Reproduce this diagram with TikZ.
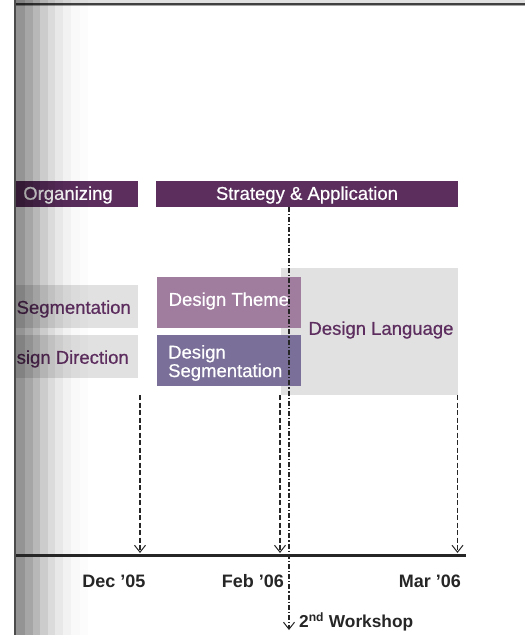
\documentclass[tikz,border=0pt]{standalone}
\usepackage{fontspec}
\setmainfont{Liberation Sans}
\newfontfamily\lblfont[FakeBold=0.6]{Liberation Sans}
\usetikzlibrary{arrows.meta}
\definecolor{barpurple}{HTML}{5B2E5D}
\definecolor{themepurple}{HTML}{A07D9F}
\definecolor{segpurple}{HTML}{7A6F98}
\definecolor{boxgray}{HTML}{E1E1E1}
\definecolor{labpurple}{HTML}{5C2D5E}
\definecolor{inkdark}{HTML}{262626}
\definecolor{topgray}{HTML}{E0E0E0}
\begin{document}
\begin{tikzpicture}[x=1pt,y=-1pt,
  boxbase/.style={rectangle, inner sep=0pt, outer sep=0pt, anchor=north west},
  barbox/.style={boxbase, fill=barpurple},
  graybox/.style={boxbase, fill=boxgray},
  themebox/.style={boxbase, fill=themepurple},
  segbox/.style={boxbase, fill=segpurple},
  lbl/.style={inner sep=0pt, font=\lblfont\fontsize{18.5}{19}\selectfont},
  barlbl/.style={lbl, text=white},
  graylbl/.style={lbl, text=labpurple},
  datelbl/.style={inner sep=0pt, font=\bfseries\fontsize{18}{19}\selectfont, text=inkdark},
  tipstyle/.style={-{Straight Barb[length=7pt,width=11pt,line width=1pt]}},
  dashline/.style={draw=inkdark, line width=1.3pt, dash pattern=on 5pt off 2.5pt, tipstyle},
  dashdotline/.style={draw=inkdark, line width=1.3pt, dash pattern=on 5pt off 2pt on 1.2pt off 2pt, tipstyle},
  stripe/.style={fill=black}
]
\useasboundingbox (0,0) rectangle (525,635);
\fill[white] (0,0) rectangle (525,635);
% top band
\fill[topgray] (14,0) rectangle (525,3.5);
\draw[line width=1.2pt, draw=black!75] (14,4) -- (525,4);
\draw[line width=0.6pt, draw=black!35] (14,5.2) -- (525,5.2);

% phase bars
\node[barbox, minimum width=122pt, minimum height=26pt] (orgbar) at (16,181) {};
\node[barbox, minimum width=302pt, minimum height=26pt] (stratbar) at (156,181) {};
\node[barlbl] (stratlbl) at (307,195) {Strategy \& Application};

% left gray boxes
\node[graybox, minimum width=122pt, minimum height=43pt] (segL) at (16,285) {};
\node[graybox, minimum width=122pt, minimum height=43pt] (dirL) at (16,335) {};
\begin{scope}
\clip (16,0) rectangle (140,635);
\node[barlbl] (orglbl) at (68,195) {Organizing};
\node[graylbl, anchor=east] (segLlbl) at (131,309) {Segmentation};
\node[graylbl, anchor=east] (dirLlbl) at (129,359) {sign Direction};
\end{scope}

% design language box
\node[graybox, minimum width=177pt, minimum height=127pt] (lang) at (281,268) {};
\node[graylbl] (langlbl) at (381,330) {Design Language};

% theme / segmentation boxes
\node[themebox, minimum width=144pt, minimum height=51pt] (theme) at (157,277) {};
\node[segbox, minimum width=144pt, minimum height=51pt] (dseg) at (157,335) {};
\node[barlbl, anchor=west] (themelbl) at (168.5,301) {Design Theme};
\node[barlbl, anchor=west, align=left, font=\lblfont\fontsize{18.5}{18.5}\selectfont] (dseglbl) at (168,363) {Design\\Segmentation};

% stripes (left fading edge)
\fill[stripe, opacity=0.42] (16,0) rectangle (25,635);
\fill[stripe, opacity=0.35] (25,0) rectangle (33,635);
\fill[stripe, opacity=0.28] (33,0) rectangle (40,635);
\fill[stripe, opacity=0.20] (40,0) rectangle (48,635);
\fill[stripe, opacity=0.14] (48,0) rectangle (55,635);
\fill[stripe, opacity=0.09] (55,0) rectangle (63,635);
\fill[stripe, opacity=0.05] (63,0) rectangle (71,635);
\fill[stripe, opacity=0.025] (71,0) rectangle (80,635);
\fill[stripe, opacity=0.01] (80,0) rectangle (88,635);
\fill[black!70] (14,0) rectangle (16,635);

% timeline
\coordinate (tlL) at (16,555);
\coordinate (tlR) at (466,555);
\draw[line width=3pt, draw=inkdark] (tlL) -- (tlR);

% milestone arrows
\coordinate (decTop) at (140,395);
\coordinate (decBot) at (140,553);
\coordinate (febTop) at (280,395);
\coordinate (febBot) at (280,553);
\coordinate (marTop) at (457.5,395);
\coordinate (marBot) at (457.5,553);
\draw[dashline] (decTop) -- (decBot);
\draw[dashline] (febTop) -- (febBot);
\draw[dashline] (marTop) -- (marBot);

% workshop line
\coordinate (wsTop) at (289,207);
\coordinate (wsBot) at (289,630);
\draw[dashdotline] (wsTop) -- (wsBot);

% dates
\node[datelbl] (dec) at (114,581) {Dec ’05};
\node[datelbl] (feb) at (253,581) {Feb ’06};
\node[datelbl] (mar) at (430,581) {Mar ’06};
\node[datelbl, anchor=west, font=\bfseries\fontsize{17.3}{19}\selectfont] (ws) at (299,622) {2\textsuperscript{nd} Workshop};
\end{tikzpicture}
\end{document}
